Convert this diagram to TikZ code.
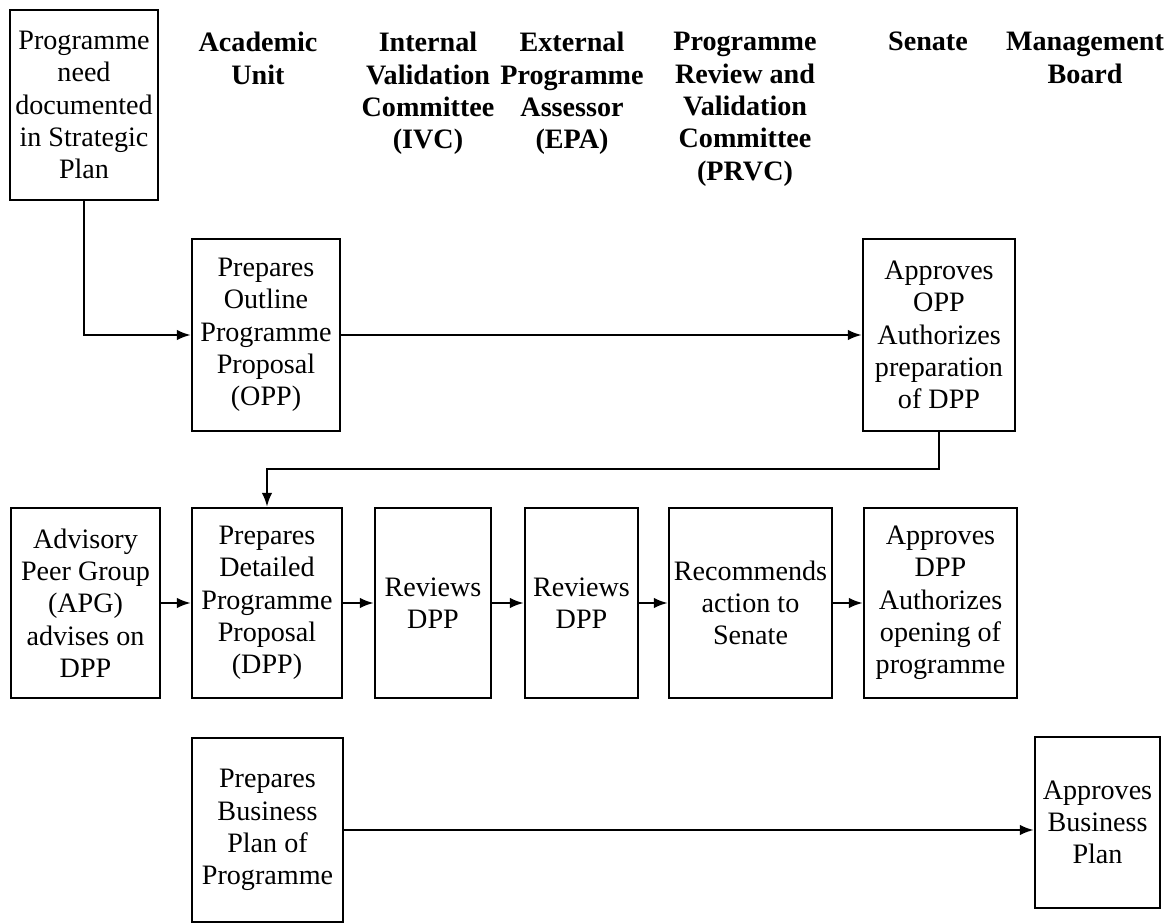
\documentclass[tikz,border=0pt]{standalone}
\usepackage{fontspec}
\setmainfont{Liberation Serif}
\usetikzlibrary{arrows.meta}

\begin{document}
\begin{tikzpicture}[x=0.025cm, y=-0.025cm,
    procBox/.style={draw, line width=1.6pt, align=center, inner xsep=1pt, font=\fontsize{20}{23}\selectfont},
    headTxt/.style={anchor=north, align=center, inner sep=0pt, font=\fontsize{20}{23}\selectfont\bfseries},
    flowArrow/.style={line width=1.6pt, -{Latex[length=10pt,width=7.5pt]}}]
        \useasboundingbox (0,0) rectangle (1170,924);
        \node[procBox, minimum width=3.7cm, minimum height=4.75cm] (need) at (84,105) {Programme\\need\\documented\\in Strategic\\Plan};
        \node[headTxt] (hAcad) at (258,32) {Academic\\Unit};
        \node[headTxt] (hIvc) at (428,32) {Internal\\Validation\\Committee\\(IVC)};
        \node[headTxt] (hEpa) at (572,32) {External\\Programme\\Assessor\\(EPA)};
        \node[headTxt] (hPrvc) at (745,32) {Programme\\Review and\\Validation\\Committee\\(PRVC)};
        \node[headTxt] (hSenate) at (928,32) {Senate};
        \node[headTxt] (hBoard) at (1085,32) {Management\\Board};
        \node[procBox, minimum width=3.7cm, minimum height=4.8cm] (opp) at (266,335) {Prepares\\Outline\\Programme\\Proposal\\(OPP)};
        \node[procBox, minimum width=3.8cm, minimum height=4.8cm] (apprOpp) at (939,335) {Approves\\OPP\\Authorizes\\preparation\\of DPP};
        \node[procBox, minimum width=3.725cm, minimum height=4.75cm] (apg) at (85.5,603) {Advisory\\Peer Group\\(APG)\\advises on\\DPP};
        \node[procBox, minimum width=3.75cm, minimum height=4.75cm] (dpp) at (267,603) {Prepares\\Detailed\\Programme\\Proposal\\(DPP)};
        \node[procBox, minimum width=2.9cm, minimum height=4.75cm] (ivcRev) at (433,603) {Reviews\\DPP};
        \node[procBox, minimum width=2.825cm, minimum height=4.75cm] (epaRev) at (581.5,603) {Reviews\\DPP};
        \node[procBox, minimum width=4.075cm, minimum height=4.75cm] (prvcRec) at (750.5,603) {Recommends\\action to\\Senate};
        \node[procBox, minimum width=3.825cm, minimum height=4.75cm] (apprDpp) at (940.5,603) {Approves\\DPP\\Authorizes\\opening of\\programme};
        \node[procBox, minimum width=3.775cm, minimum height=4.6cm] (bizPlan) at (267.5,830) {Prepares\\Business\\Plan of\\Programme};
        \node[procBox, minimum width=3.125cm, minimum height=4.275cm] (apprBiz) at (1097.5,822.5) {Approves\\Business\\Plan};
        \draw[flowArrow] (need.south) |- (opp.west);
        \draw[flowArrow] (opp.east) -- (apprOpp.west);
        \draw[flowArrow] (apprOpp.south) -- ++(0,37) -| (dpp.north);
        \draw[flowArrow] (apg.east) -- (dpp.west);
        \draw[flowArrow] (dpp.east) -- (ivcRev.west);
        \draw[flowArrow] (ivcRev.east) -- (epaRev.west);
        \draw[flowArrow] (epaRev.east) -- (prvcRec.west);
        \draw[flowArrow] (prvcRec.east) -- (apprDpp.west);
        \draw[flowArrow] (bizPlan.east) -- (bizPlan.east -| apprBiz.west);
      \end{tikzpicture}
\end{document}
